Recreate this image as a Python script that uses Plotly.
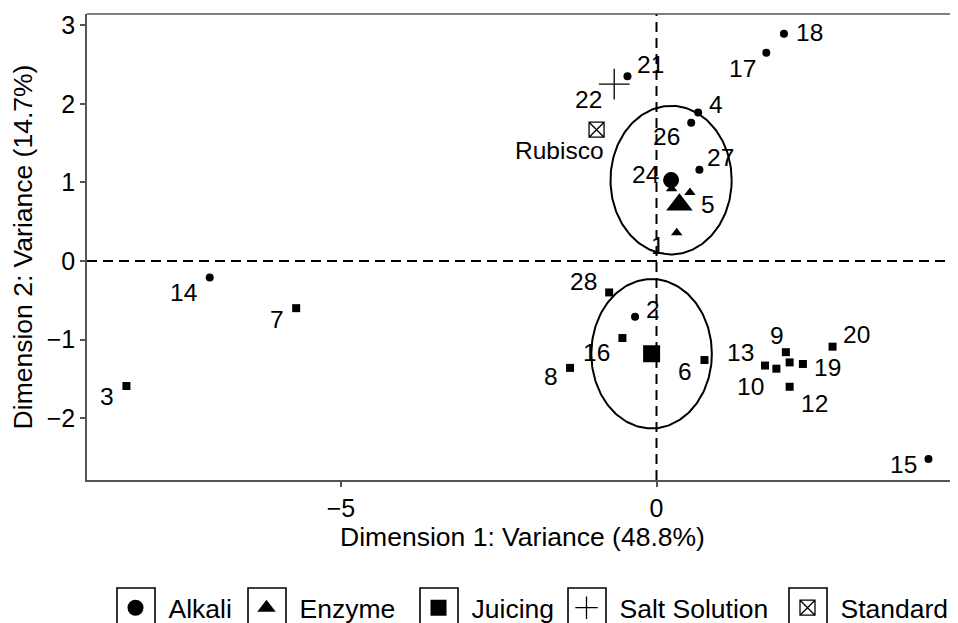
import numpy as np
import plotly.graph_objects as go

# ---------------- data ----------------
groups = ["Alkali", "Enzyme", "Juicing", "Salt Solution", "Standard"]

alkali_ids = ["2", "4", "14", "15", "17", "18", "21", "26", "27"]
alkali_x = [-0.34, 0.66, -7.08, 4.31, 1.74, 2.02, -0.46, 0.55, 0.68]
alkali_y = [-0.71, 1.89, -0.21, -2.52, 2.65, 2.89, 2.35, 1.76, 1.16]

enzyme_ids = ["1", "5", "24"]
enzyme_x = [0.32, 0.53, 0.24]
enzyme_y = [0.36, 0.87, 0.92]

juicing_ids = ["3", "6", "7", "8", "9", "10", "", "12", "13", "16", "19", "20", "28"]
juicing_x = [-8.40, 0.76, -5.71, -1.37, 2.05, 1.90, 2.11, 2.11, 1.72, -0.54, 2.32, 2.79, -0.75]
juicing_y = [-1.59, -1.26, -0.60, -1.36, -1.16, -1.37, -1.29, -1.60, -1.33, -0.98, -1.31, -1.09, -0.40]

salt_ids = ["22"]
salt_x = [-0.67]
salt_y = [2.25]

standard_ids = ["Rubisco"]
standard_x = [-0.95]
standard_y = [1.67]

# ellipse semi-axes (x, y) for groups with ellipses
ellipse_groups = ["Alkali", "Juicing"]
ellipse_rx = [0.96, 0.955]
ellipse_ry = [0.945, 0.95]

x_ticks = [-5, 0]
y_ticks = [-2, -1, 0, 1, 2, 3]
x_title = "Dimension 1: Variance (48.8%)"
y_title = "Dimension 2: Variance (14.7%)"

# label offsets in pixels (dx right, dy down), per group in same order as ids
label_off = {
    "Alkali": [(18, -7), (18, -8), (-26, 15), (-25, 5), (-24, 16), (26, -1), (23, -12), (-25, 14), (21, -12)],
    "Enzyme": [(-19, 13), (18, 12), (-26, -14)],
    "Juicing": [(-19, 11), (-19, 11), (-19, 11), (-19, 9), (-9, -17), (-26, 18), (0, 0), (25, 17),
                (-25, -13), (-26, 14), (25, 4), (24, -12), (-26, -11)],
    "Salt Solution": [(-26, 15)],
    "Standard": [(-37, 21)],
}

# ---------------- layout constants (pixels in figure coords) ----------------
W, H = 958, 623
ML, MR, MT, MB = 79, 8, 6, 151          # page has an 8px body margin
PW, PH = W - ML - MR, H - MT - MB
key_centers_px = [128, 259, 431, 579, 800]   # legend key box centres (figure px)
KEY_BOX = 38
KEY_TOP_PX, KEY_MID_PX = 580, 600
ITEMW = 56

FONT = "Liberation Sans, Arial, Helvetica, sans-serif"
data = {
    "Alkali": (alkali_ids, alkali_x, alkali_y),
    "Enzyme": (enzyme_ids, enzyme_x, enzyme_y),
    "Juicing": (juicing_ids, juicing_x, juicing_y),
    "Salt Solution": (salt_ids, salt_x, salt_y),
    "Standard": (standard_ids, standard_x, standard_y),
}
symbols = {"Alkali": "circle", "Enzyme": "triangle-up", "Juicing": "square",
           "Salt Solution": "cross-thin-open", "Standard": "square-x-open"}
sizes = {"Alkali": 8, "Enzyme": 10, "Juicing": 8, "Salt Solution": 22, "Standard": 15}
big_sizes = {"Alkali": 16, "Enzyme": 23, "Juicing": 17}
legend_ids = {g: ("legend" if k == 0 else f"legend{k + 1}") for k, g in enumerate(groups)}

fig = go.Figure()

# ellipses
for g, rx, ry in zip(ellipse_groups, ellipse_rx, ellipse_ry):
    _, gx, gy = data[g]
    cx, cy = np.mean(gx), np.mean(gy)
    t = np.linspace(0, 2 * np.pi, 200)
    fig.add_trace(go.Scatter(x=cx + rx * np.cos(t), y=cy + ry * np.sin(t), mode="lines",
                             line=dict(color="black", width=2), showlegend=False, hoverinfo="skip"))

# points
for g in groups:
    ids, gx, gy = data[g]
    has_mean = g in big_sizes
    fig.add_trace(go.Scatter(
        x=gx, y=gy, mode="markers", name=g, legend=legend_ids[g], showlegend=not has_mean,
        marker=dict(symbol=symbols[g], size=sizes[g], color="black",
                    line=dict(color="black", width=1.3 if not has_mean else 0)),
    ))
    for (i, xx, yy), (dx, dy) in zip(zip(ids, gx, gy), label_off[g]):
        if i:
            fig.add_annotation(x=xx, y=yy, text=i, showarrow=False, xshift=dx, yshift=-dy,
                               font=dict(family=FONT, size=24.5, color="black"))

# group means (also used as legend keys)
for g in ["Alkali", "Enzyme", "Juicing"]:
    _, gx, gy = data[g]
    fig.add_trace(go.Scatter(x=[np.mean(gx)], y=[np.mean(gy)], mode="markers", name=g,
                             legend=legend_ids[g], showlegend=True,
                             marker=dict(symbol=symbols[g], size=big_sizes[g], color="black")))

# dashed reference lines
fig.add_shape(type="line", xref="x", yref="paper", x0=0, x1=0, y0=0, y1=1,
              line=dict(color="black", width=2, dash="10px,6px"))
fig.add_shape(type="line", xref="paper", yref="y", x0=0, x1=1, y0=0, y1=0,
              line=dict(color="black", width=2, dash="10px,6px"))
# top border
fig.add_shape(type="line", xref="paper", yref="paper", x0=0, x1=1, y0=1, y1=1,
              line=dict(color="#555555", width=1.5))

# legend key boxes and legends
def px2paper_x(px):
    return (px - ML) / PW

def px2paper_y(py):
    return (H - MB - py) / PH

legends = {}
for k, g in enumerate(groups):
    c = key_centers_px[k]
    fig.add_shape(type="rect", xref="paper", yref="paper",
                  x0=px2paper_x(c - KEY_BOX / 2), x1=px2paper_x(c + KEY_BOX / 2),
                  y0=px2paper_y(KEY_TOP_PX + KEY_BOX), y1=px2paper_y(KEY_TOP_PX),
                  line=dict(color="black", width=1.6), fillcolor="rgba(0,0,0,0)", layer="above")
    legends[legend_ids[g]] = dict(
        orientation="h", x=px2paper_x(c - ITEMW / 2 - 5.5), xanchor="left",
        y=px2paper_y(KEY_MID_PX), yanchor="middle",
        font=dict(family=FONT, size=26.5, color="black"), itemsizing="trace",
        itemwidth=ITEMW, bgcolor="rgba(0,0,0,0)")

axis_common = dict(showgrid=False, zeroline=False, showline=True, linecolor="#555555", linewidth=1.5,
                   ticks="outside", ticklen=5, tickwidth=1.5, tickcolor="#555555", automargin=False,
                   tickfont=dict(family=FONT, size=25, color="black"))
fig.update_xaxes(range=[-9.025, 4.778], tickvals=x_ticks, ticktext=["\u22125", "0"],
                 title=dict(text=x_title, font=dict(family=FONT, size=26.5, color="black"), standoff=1),
                 **axis_common)
fig.update_yaxes(range=[-2.786, 3.142], tickvals=y_ticks,
                 ticktext=["\u22122", "\u22121", "0", "1", "2", "3"],
                 title=dict(text=y_title, font=dict(family=FONT, size=26.5, color="black"), standoff=8),
                 **axis_common)

fig.update_layout(
    width=W, height=H,
    margin=dict(l=ML, r=MR, t=MT, b=MB, autoexpand=False),
    plot_bgcolor="white", paper_bgcolor="white",
    font=dict(family=FONT, color="black"),
    **legends,
)

fig.write_html("out.html")
